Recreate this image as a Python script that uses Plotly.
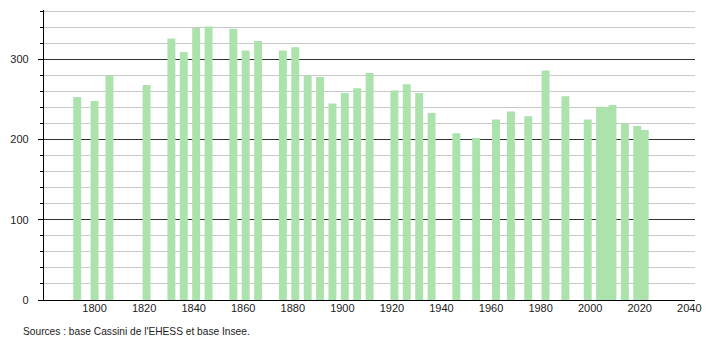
import plotly.graph_objects as go

years = [1793, 1800, 1806, 1821, 1831, 1836, 1841, 1846, 1856, 1861, 1866,
         1876, 1881, 1886, 1891, 1896, 1901, 1906, 1911, 1921, 1926, 1931,
         1936, 1946, 1954, 1962, 1968, 1975, 1982, 1990, 1999, 2004, 2006,
         2009, 2014, 2019, 2022]
population = [253, 248, 280, 268, 326, 309, 339, 341, 338, 311, 323,
              311, 315, 280, 278, 245, 258, 264, 283, 261, 269, 258,
              233, 208, 202, 225, 235, 229, 286, 254, 225, 241, 240,
              243, 220, 217, 212]
x_ticks = [1800, 1820, 1840, 1860, 1880, 1900, 1920, 1940, 1960, 1980, 2000, 2020, 2040]
y_ticks = [0, 100, 200, 300]
source_text = "Sources : base Cassini de l'EHESS et base Insee."

FONT = "Liberation Sans, Arial, sans-serif"

fig = go.Figure(go.Bar(
    x=years, y=population, width=3.2,
    marker=dict(color="rgb(172,226,172)", line=dict(width=0)),
    hoverinfo="x+y",
))

fig.update_layout(
    width=710, height=340,
    margin=dict(l=44, r=9, t=10, b=40),
    paper_bgcolor="white", plot_bgcolor="white",
    showlegend=False,
    font=dict(family=FONT, size=11, color="#222"),
    xaxis=dict(
        range=[1779.6, 2042.3], tickvals=x_ticks, showgrid=False,
        showline=True, linecolor="black", linewidth=1.3,
        ticks="", zeroline=False, tickfont=dict(size=11, color="#222"),
        ticklabelstandoff=-2,
    ),
    yaxis=dict(
        range=[0, 361.5], tickvals=y_ticks, showgrid=True,
        gridcolor="#333", gridwidth=1,
        showline=True, linecolor="black", linewidth=1.3,
        ticks="outside", ticklen=5, tickcolor="black",
        zeroline=False, tickfont=dict(size=11, color="#222"),
        ticklabelstandoff=7,
        minor=dict(dtick=20, showgrid=True, gridcolor="#c8c8c8", gridwidth=1,
                   ticks="outside", ticklen=3, tickcolor="black"),
    ),
    annotations=[dict(
        text=source_text, xref="paper", yref="paper",
        x=(21 - 44) / 657, y=(300 - 331) / 290,
        xanchor="left", yanchor="middle", showarrow=False,
        font=dict(family=FONT, size=10.2, color="#222"),
    )],
)

fig.write_html("out.html")
